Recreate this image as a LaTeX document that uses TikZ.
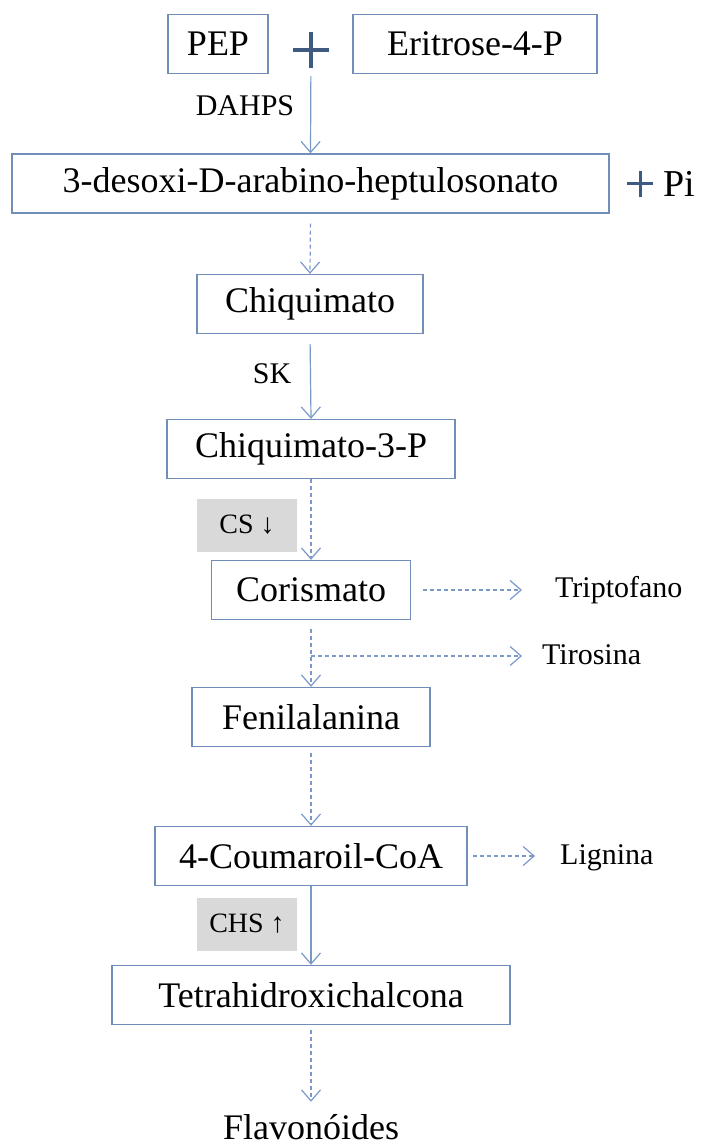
\documentclass[tikz,border=0pt]{standalone}
\usepackage{fontspec}
\setmainfont{Liberation Serif}
\usetikzlibrary{arrows.meta}

\definecolor{boxblue}{RGB}{112,142,184}
\definecolor{flowblue}{RGB}{122,152,200}
\definecolor{plusblue}{RGB}{62,90,128}
\definecolor{enzgray}{RGB}{217,217,217}

\begin{document}
\begin{tikzpicture}[x=1pt,y=-1pt,
    met/.style={draw=boxblue,line width=1.3pt,minimum height=59pt,inner sep=0pt,
        font=\fontsize{36}{40}\selectfont},
    enz/.style={fill=enzgray,minimum width=100pt,minimum height=53pt,inner sep=0pt,
        font=\fontsize{28}{32}\selectfont},
    lbl/.style={inner sep=0pt,font=\fontsize{30}{34}\selectfont},
    flow/.style={draw=flowblue,line width=1.2pt,
        -{Straight Barb[length=11pt,width=19pt,line width=1.2pt]}},
    dflow/.style={flow,dash pattern=on 4pt off 3pt},
    plusbar/.style={draw=plusblue,line width=3.5pt}]
    \useasboundingbox (0,0) rectangle (712,1147);
    \node[met,minimum width=100pt] (pep) at (218,44) {PEP};
    \coordinate (sum) at (311,50);
    \node[met,minimum width=244pt] (e4p) at (475,44) {Eritrose-4-P};
    \node[lbl] (dahps) at (245,106) {DAHPS};
    \node[met,minimum width=597pt] (dahp) at (310.5,183.5) {3-desoxi-D-arabino-heptulosonato};
    \coordinate (sumpi) at (640,184);
    \node[lbl,font=\fontsize{38}{40}\selectfont] (pi) at (679,184) {Pi};
    \node[met,minimum width=226pt] (chiq) at (310,304) {Chiquimato};
    \node[lbl] (sk) at (272,374) {SK};
    \node[met,minimum width=288pt] (chiq3p) at (311,449) {Chiquimato-3-P};
    \node[enz] (cs) at (247,525) {CS ↓};
    \node[met,minimum width=199pt] (coris) at (311,590) {Corismato};
    \node[lbl,anchor=west] (trp) at (555,590) {Triptofano};
    \coordinate (split) at (311,656);
    \node[lbl,anchor=west] (tyr) at (542,655) {Tirosina};
    \node[met,minimum width=238pt] (phe) at (311,717) {Fenilalanina};
    \node[met,minimum width=312pt] (coa) at (311,856) {4-Coumaroil-CoA};
    \node[lbl,anchor=west] (lig) at (560,858) {Lignina};
    \node[enz] (chs) at (247,924) {CHS ↑};
    \node[met,minimum width=398pt] (thc) at (311,995) {Tetrahidroxichalcona};
    \node[lbl,font=\fontsize{36}{40}\selectfont,anchor=base] (flav) at (311,1139) {Flavonóides};
    \draw[plusbar] (sum) ++(-18,0) -- ++(36,0);
    \draw[plusbar] (sum) ++(0,-18) -- ++(0,36);
    \draw[plusbar,line width=3pt] (sumpi) ++(-13,0) -- ++(26,0);
    \draw[plusbar,line width=3pt] (sumpi) ++(0,-13) -- ++(0,26);
    \draw[flow,shorten <=26pt] (sum) -- (dahp.north);
    \draw[dflow,shorten <=10pt] (dahp.south) -- (chiq.north);
    \draw[flow,shorten <=10pt] (chiq.south) -- (chiq3p.north);
    \draw[dflow] (chiq3p.south) -- (coris.north);
    \draw[dflow,shorten <=12pt,shorten >=33pt] (coris.east) -- (coris.east -| trp.west);
    \draw[dflow,shorten <=9pt] (coris.south) -- (phe.north);
    \draw[dflow,shorten >=20pt] (split) -- (split -| tyr.west);
    \draw[dflow,shorten <=6pt] (phe.south) -- (coa.north);
    \draw[dflow,shorten <=5pt,shorten >=25pt] (coa.east) -- (coa.east -| lig.west);
    \draw[flow] (coa.south) -- (thc.north);
    \draw[dflow,shorten <=5pt,shorten >=12pt] (thc.south) -- (flav.north);
\end{tikzpicture}
\end{document}
